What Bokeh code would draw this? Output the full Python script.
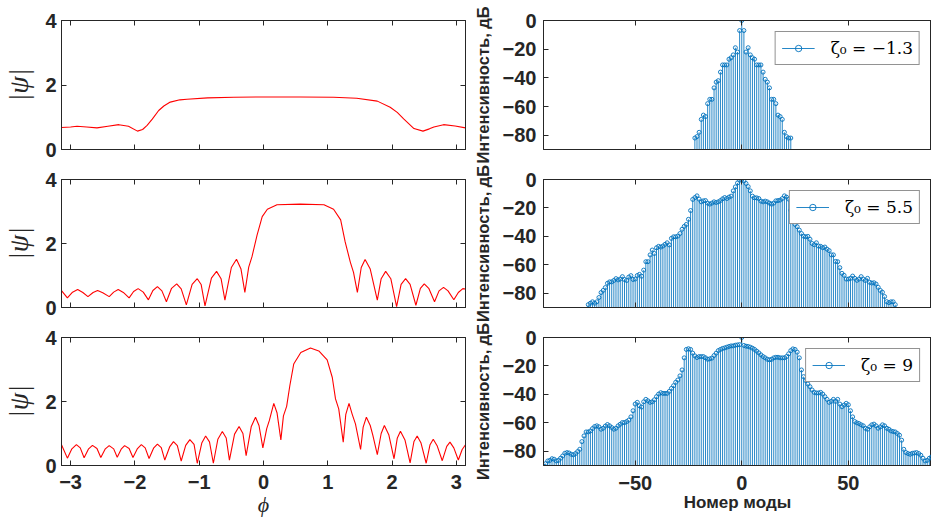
import math
from bokeh.plotting import figure
from bokeh.models import ColumnDataSource, Range1d, FixedTicker, LinearAxis, Legend, LegendItem
from bokeh.layouts import column, row
from bokeh.embed import file_html
from bokeh.resources import INLINE

# ---------------- data: |psi| versus phi (left column) ----------------
phi1 = [-3.1416, -3.0, -2.90, -2.75, -2.59, -2.42, -2.25, -2.10, -1.96, -1.88, -1.81, -1.73,
        -1.63, -1.55, -1.45, -1.30, -1.19, -0.87, -0.46, 0.06, 0.57, 1.09, 1.45, 1.77, 1.97,
        2.08, 2.18, 2.34, 2.48, 2.58, 2.65, 2.80, 2.98, 3.1416]
psi1 = [0.68, 0.70, 0.72, 0.70, 0.67, 0.72, 0.77, 0.72, 0.57, 0.62, 0.75, 0.94,
        1.21, 1.35, 1.47, 1.54, 1.56, 1.60, 1.62, 1.63, 1.63, 1.62, 1.59, 1.50, 1.31,
        1.15, 0.95, 0.65, 0.57, 0.64, 0.70, 0.77, 0.73, 0.67]

phi2 = [-3.1416, -3.05, -2.97, -2.89, -2.81, -2.73, -2.65, -2.58, -2.50, -2.40, -2.33, -2.26,
        -2.18, -2.09, -2.02, -1.95, -1.87, -1.79, -1.72, -1.65, -1.58, -1.51, -1.43, -1.35,
        -1.28, -1.20, -1.11, -1.03, -0.97, -0.91, -0.81, -0.73, -0.66, -0.60, -0.50, -0.42,
        -0.35, -0.29, -0.23, -0.18, -0.10, -0.02, 0.06, 0.21, 0.57, 0.94, 1.09, 1.20, 1.27,
        1.35, 1.40, 1.46, 1.52, 1.58, 1.66, 1.77, 1.83, 1.90, 1.98, 2.07, 2.14, 2.21, 2.28,
        2.37, 2.44, 2.50, 2.57, 2.66, 2.73, 2.80, 2.87, 2.96, 3.03, 3.10, 3.1416]
psi2 = [0.53, 0.30, 0.48, 0.56, 0.47, 0.34, 0.47, 0.53, 0.46, 0.34, 0.48, 0.56,
        0.47, 0.30, 0.50, 0.59, 0.48, 0.24, 0.53, 0.65, 0.52, 0.18, 0.60, 0.74,
        0.58, 0.08, 0.72, 0.90, 0.72, 0.05, 0.92, 1.13, 0.90, 0.23, 1.25, 1.51,
        1.20, 0.47, 1.26, 1.58, 2.26, 2.84, 3.07, 3.21, 3.23, 3.21, 3.07, 2.74, 2.05,
        1.42, 1.10, 0.47, 1.25, 1.50, 1.20, 0.23, 0.90, 1.13, 0.90, 0.03, 0.72, 0.90, 0.72,
        0.07, 0.60, 0.74, 0.60, 0.18, 0.52, 0.63, 0.52, 0.24, 0.47, 0.59, 0.58]

phi3 = [-3.1416, -3.05, -2.98, -2.91, -2.85, -2.79, -2.72, -2.66, -2.59, -2.53, -2.46, -2.40,
        -2.33, -2.275, -2.21, -2.16, -2.09, -2.03, -1.96, -1.90, -1.84, -1.78, -1.71, -1.65,
        -1.59, -1.535, -1.46, -1.40, -1.34, -1.28, -1.21, -1.145, -1.08, -1.03, -0.96, -0.90,
        -0.84, -0.78, -0.71, -0.64, -0.58, -0.53, -0.45, -0.38, -0.32, -0.27, -0.19, -0.124,
        -0.07, -0.01, 0.05, 0.09, 0.16, 0.21, 0.27, 0.31, 0.36, 0.41, 0.47, 0.58, 0.73, 0.86,
        0.99, 1.07, 1.12, 1.17, 1.24, 1.28, 1.33, 1.38, 1.43, 1.51, 1.55, 1.60, 1.66, 1.70,
        1.77, 1.83, 1.88, 1.95, 2.03, 2.08, 2.13, 2.20, 2.28, 2.34, 2.39, 2.45, 2.53, 2.59,
        2.64, 2.70, 2.78, 2.85, 2.90, 2.96, 3.03, 3.09, 3.1416]
psi3 = [0.65, 0.23, 0.52, 0.65, 0.55, 0.24, 0.52, 0.63, 0.53, 0.25, 0.52, 0.62,
        0.52, 0.26, 0.52, 0.62, 0.53, 0.25, 0.53, 0.65, 0.55, 0.22, 0.54, 0.67,
        0.56, 0.17, 0.58, 0.745, 0.62, 0.14, 0.63, 0.81, 0.66, 0.07, 0.70, 0.92,
        0.74, 0.07, 0.82, 1.06, 0.86, 0.17, 0.98, 1.22, 1.00, 0.31, 1.22, 1.51,
        1.25, 0.55, 1.15, 1.40, 1.94, 1.65, 0.80, 1.55, 1.85, 2.50, 3.17, 3.53, 3.67, 3.58,
        3.30, 2.75, 2.08, 1.77, 0.73, 1.60, 1.94, 1.60, 1.30, 0.50, 1.20, 1.51, 1.25, 0.95,
        0.34, 1.00, 1.25, 0.95, 0.21, 0.85, 1.07, 0.80, 0.08, 0.75, 0.92, 0.70, 0.07, 0.65,
        0.82, 0.62, 0.15, 0.60, 0.73, 0.55, 0.17, 0.50, 0.65]

# ---------------- data: mode spectra in dB (right column) ----------------
modes1 = list(range(-22, 24))
db1 = [-82, -81, -78, -69, -66, -67, -58, -55, -55, -47, -43, -42, -36, -31, -31, -31,
       -27, -26, -24, -19, -22, -7, 0, -7, -22, -19, -24, -26, -27, -31, -31, -31, -36,
       -41, -43, -47, -55, -55, -58, -66, -67, -69, -78, -81, -82, -82]

modes2 = list(range(-72, 73))
db2 = [-88, -87, -86, -87,
       -86, -83, -79.5, -78, -76, -73, -72, -72, -71, -69.7,
       -70.6, -70, -68.3, -70.3, -71, -68.6, -67.6, -70.3, -70, -67.5,
       -66.7, -68, -63.7, -57.8, -57.8, -53, -49.6, -52, -48, -47,
       -47.5, -46.8, -45.6, -44.5, -46, -41.4, -40.3, -40.3, -39.8, -38,
       -35, -33, -31.6, -28, -21.8, -14, -12.7, -11.5, -13.8, -15.7,
       -15, -14.8, -16.6, -17.3, -16.6, -15.7, -16.2, -15.7, -14.8, -13.6,
       -12.7, -13.4, -12.4, -11.7, -8, -5.2, -2.4, -0.5,
       0,
       -1, -2.8, -5, -8, -11.7, -12.9, -12.9, -13.4, -15.2, -15.7,
       -15.2, -15.7, -16.6, -17.3, -16.6, -15, -14.8, -14.5, -13.4, -11.5,
       -12.4, -13.8, -21.6, -28.6, -31.6, -33.2, -35.6, -38, -39.8, -40.3,
       -40, -42, -45, -45.9, -44.5, -46.8, -47, -48, -47.5, -49,
       -50, -53, -53, -57.6, -57.8, -62, -66, -67.4, -70, -70,
       -69.5, -67.9, -69.5, -70.9, -70, -68.3, -70, -71, -69.5, -72.3,
       -72.8, -72.6, -73.5, -75.8, -78, -79.3, -82.3, -85.9, -86.6, -86,
       -86, -88]

modes3 = list(range(-93, 90))
db3 = [-90.4, -88.7, -86.8, -86.4, -85.2, -85.6, -86.8, -86.4, -84.9, -83.3,
       -81.4, -80.9, -81.2, -82.1, -82.5, -81.6, -80.2, -78.6, -73.2, -69.2,
       -66.4, -66.4, -65.7, -64, -62.6, -62.1, -62.8, -64.5, -63.8, -62.3,
       -61.2, -62.1, -63.3, -64.5, -63.8, -62.1, -61, -59.8, -59.8, -59.1,
       -58.1, -55.8, -51.5, -46.8, -45.6, -48, -48.9, -45.2, -43.5, -44.5,
       -45.6, -45.2, -43.8, -41.6, -39.8, -38.8, -39.3, -39.3, -39.3, -37.9,
       -35.8, -33.9, -31.5, -29.9, -27, -22.8, -14.3, -8.4, -7.9, -8.4,
       -11, -12.9, -14.1, -13.4, -13.4, -13.4, -14.3, -15.3, -15, -14.5,
       -12.7, -11, -9.2, -8.4, -7.7, -7.3, -6.8, -6.3, -5.9, -5.9,
       -5.4, -5.2, -5,
       0,
       -5.6, -6.1, -6.3, -6.8, -7.5, -8.4, -9.6, -10.8, -12.2, -13.4,
       -14.3, -15.3, -15.7, -15.3, -14.3, -13.9, -13.9, -14.3, -14.3, -14.3,
       -13.4, -11.5, -9.2, -8, -8.4, -10.3, -14.3, -22.8, -27.5, -30.3,
       -32.7, -34.6, -36.9, -38.6, -39, -39, -38.6, -39.8, -41.6, -43.5,
       -45.6, -44.9, -43.5, -44.9, -43.5, -46.8, -48.7, -47.5, -46.3, -47.3,
       -51.5, -55.8, -59.1, -60, -60.5, -61.4, -62.1, -63.8, -64.5, -62.8,
       -61.4, -60.9, -62.1, -63.8, -62.8, -61.4, -62.1, -63.8, -64.5, -65.7,
       -66.1, -66.4, -67.5, -68.7, -72.2, -78.6, -80.9, -81.6, -82.1, -81.4,
       -81.2, -80.9, -81.6, -82.8, -84.9, -86.8, -86.4, -84.9, -84]

zeta_labels = ["ζ₀ = −1.3", "ζ₀ = 5.5", "ζ₀ = 9"]
phi_ticks = [-3, -2, -1, 0, 1, 2, 3]
psi_ticks = [0, 2, 4]
mode_ticks = [-50, 0, 50]
db_ticks = [-80, -60, -40, -20, 0]

# ---------------- styling ----------------
AX = "#262626"
FONT = "Liberation Sans"
BLUE = "#0072BD"
TICK_SIZE = "20px"

row_h = [164, 158, 199]
row_top = [20, 15, 15]
row_bot = [15, 15, 56]


def style_axis(ax, ticks, show_labels, standoff=6):
    ax.ticker = FixedTicker(ticks=ticks)
    ax.major_tick_in = 5
    ax.major_tick_out = 0
    ax.minor_tick_in = 0
    ax.minor_tick_out = 0
    ax.axis_line_color = AX
    ax.major_tick_line_color = AX
    ax.major_label_text_font = FONT
    ax.major_label_text_font_style = "bold"
    ax.major_label_text_font_size = TICK_SIZE
    if show_labels:
        ax.major_label_text_color = AX
        ax.major_label_standoff = standoff
    else:
        # tick marks only, no tick labels
        ax.major_label_overrides = {t: "" for t in ticks}
        ax.major_label_text_color = None
        ax.major_label_text_font_size = "8px"
        ax.major_label_standoff = 0


def mirror(p, ticks, place):
    ax = LinearAxis()
    style_axis(ax, ticks, False)
    p.add_layout(ax, place)


def base_fig(width, h, top, bot, left, right, xr, yr):
    p = figure(width=width, height=h, x_range=xr, y_range=yr,
               output_backend="svg", toolbar_location=None,
               min_border_left=left, min_border_right=right,
               min_border_top=top, min_border_bottom=bot)
    p.xgrid.visible = False
    p.ygrid.visible = False
    p.outline_line_color = AX
    p.outline_line_width = 1
    p.background_fill_color = "white"
    return p


def left_panel(i, phi, psi):
    last = i == 2
    p = base_fig(470, row_h[i], row_top[i], row_bot[i], 60, 5,
                 Range1d(-math.pi, math.pi), Range1d(0, 4))
    p.line(phi, psi, line_color="#FF0000", line_width=1.1)
    style_axis(p.xaxis[0], phi_ticks, last, standoff=9)
    style_axis(p.yaxis[0], psi_ticks, True, standoff=5)
    p.yaxis.axis_label = "|ψ|"
    p.yaxis.axis_label_text_font = "Liberation Serif"
    p.yaxis.axis_label_text_font_style = "italic"
    p.yaxis.axis_label_text_font_size = "28px"
    p.yaxis.axis_label_text_color = AX
    p.yaxis.axis_label_standoff = 8
    if last:
        p.xaxis.axis_label = "ϕ"
        p.xaxis.axis_label_text_font = "Liberation Serif"
        p.xaxis.axis_label_text_font_style = "italic"
        p.xaxis.axis_label_text_font_size = "22px"
        p.xaxis.axis_label_text_color = AX
        p.xaxis.axis_label_standoff = 0
    mirror(p, phi_ticks, "above")
    mirror(p, psi_ticks, "right")
    return p


def right_panel(i, modes, db, label):
    last = i == 2
    p = base_fig(461, row_h[i], row_top[i], row_bot[i], 60, 0,
                 Range1d(-93, 89), Range1d(-90, 0))
    src = ColumnDataSource(dict(m=modes, db=db))
    seg = p.segment(x0="m", y0=-100, x1="m", y1="db", source=src,
                    line_color=BLUE, line_width=1, line_alpha=0.85)
    sc = p.scatter(x="m", y="db", source=src, marker="circle", size=4,
                   line_color=BLUE, line_width=0.9, fill_color=None)
    style_axis(p.xaxis[0], mode_ticks, last, standoff=10)
    style_axis(p.yaxis[0], db_ticks, True, standoff=7)
    p.yaxis.axis_label = "Интенсивность, дБ"
    p.yaxis.axis_label_text_font = FONT
    p.yaxis.axis_label_text_font_style = "bold"
    p.yaxis.axis_label_text_font_size = "16.5px"
    p.yaxis.axis_label_text_color = AX
    p.yaxis.axis_label_standoff = 8
    if last:
        p.xaxis.axis_label = "Номер моды"
        p.xaxis.axis_label_text_font = FONT
        p.xaxis.axis_label_text_font_style = "bold"
        p.xaxis.axis_label_text_font_size = "17px"
        p.xaxis.axis_label_text_color = AX
        p.xaxis.axis_label_standoff = 0
    mirror(p, mode_ticks, "above")
    leg = Legend(items=[LegendItem(label=label, renderers=[seg, sc])],
                 location="top_right", margin=11, padding=6,
                 glyph_width=33, glyph_height=16, label_height=16,
                 label_standoff=16, spacing=0,
                 label_text_font="DejaVu Serif", label_text_font_size="17px",
                 label_text_color="black",
                 border_line_color=AX, border_line_width=1,
                 background_fill_color="white", background_fill_alpha=1)
    p.add_layout(leg)
    return p


lefts = [left_panel(0, phi1, psi1), left_panel(1, phi2, psi2), left_panel(2, phi3, psi3)]
rights = [right_panel(0, modes1, db1, zeta_labels[0]),
          right_panel(1, modes2, db2, zeta_labels[1]),
          right_panel(2, modes3, db3, zeta_labels[2])]

layout = column(row(lefts[0], rights[0]), row(lefts[1], rights[1]), row(lefts[2], rights[2]))

with open("out.html", "w") as f:
    f.write(file_html(layout, INLINE))
